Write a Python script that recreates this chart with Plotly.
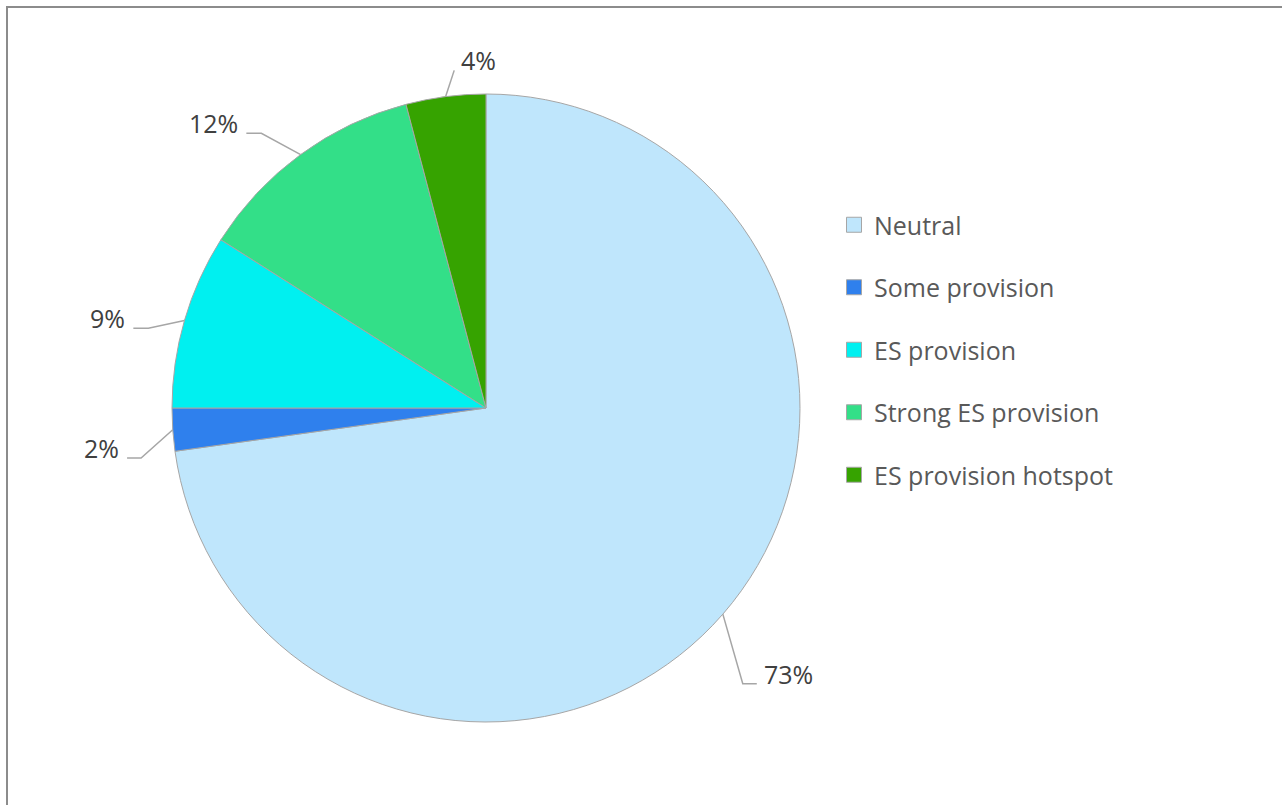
import math
import plotly.graph_objects as go

# data
categories = ['Neutral', 'Some provision', 'ES provision', 'Strong ES provision', 'ES provision hotspot']
shares = [72.8, 2.2, 9.0, 11.9, 4.1]
colors = ['#BFE6FC', '#2F80ED', '#00F0F0', '#33DF88', '#36A300']

# geometry (px) of the figure and the pie
W, H = 1282, 805
CX, CY, R = 486, 408, 314

# label placement per slice: angle nudge (deg), radius factor, side, horizontal leader length
label_tweaks = [(6, 1.20, 'right', 14), (-4.3, 1.11, 'left', 14), (-2.9, 1.105, 'left', 15),
                (-3.1, 1.13, 'left', 15), (2, 1.08, 'right', 0)]

LINE_COL = '#A6A6A6'
FONT = 'Open Sans'


def px(x):
    return x / W


def py(y):
    return 1 - y / H


fig = go.Figure()

fig.add_trace(go.Pie(
    labels=categories, values=shares, sort=False, direction='clockwise', rotation=0,
    marker=dict(colors=colors, line=dict(color=LINE_COL, width=1)),
    textinfo='none', showlegend=False, hoverinfo='label+percent',
    domain=dict(x=[px(CX - R), px(CX + R)], y=[py(CY + R), py(CY - R)]),
))

# legend entries (dummy traces so the item spacing can be set)
for name, col in zip(categories, colors):
    fig.add_trace(go.Scatter(
        x=[None], y=[None], mode='markers', name=name, legendgroup=name, hoverinfo='skip',
        marker=dict(symbol='square', size=15, color=col, line=dict(color=LINE_COL, width=1)),
    ))

# data labels with leader lines
total = sum(shares)
cum = 0
shapes = []
annotations = []
for v, (nudge, fac, side, seg) in zip(shares, label_tweaks):
    mid = math.radians((cum + v / 2) / total * 360)
    cum += v
    ex, ey = CX + R * math.sin(mid), CY - R * math.cos(mid)
    th = mid + math.radians(nudge)
    bx, by = CX + R * fac * math.sin(th), CY - R * fac * math.cos(th)
    if side == 'right':
        endx = bx + seg
        tx, anchor = endx + 5, 'left'
    else:
        endx = bx - seg
        tx, anchor = endx - 6, 'right'
    shapes.append(dict(
        type='path', xref='paper', yref='paper',
        path=f'M {px(ex)},{py(ey)} L {px(bx)},{py(by)} L {px(endx)},{py(by)}',
        line=dict(color=LINE_COL, width=1.5),
    ))
    annotations.append(dict(
        x=px(tx), y=py(by - 10), xref='paper', yref='paper', xanchor=anchor, yanchor='middle',
        text=f'{round(v / total * 100)}%', showarrow=False,
        font=dict(family=FONT, size=25, color='#404040'),
    ))

# chart border (right and bottom edges fall outside the picture)
shapes.append(dict(type='rect', xref='paper', yref='paper', x0=px(7), y0=-0.05, x1=1.05, y1=py(7),
                   line=dict(color='#8C8C8C', width=2)))

fig.update_layout(
    width=W, height=H,
    margin=dict(l=0, r=0, t=0, b=0),
    paper_bgcolor='white', plot_bgcolor='white',
    xaxis=dict(visible=False), yaxis=dict(visible=False),
    shapes=shapes, annotations=annotations,
    legend=dict(
        x=px(834), y=py(202), xanchor='left', yanchor='top',
        traceorder='grouped', tracegroupgap=27,
        font=dict(family=FONT, size=25, color='#595959'),
        bgcolor='rgba(0,0,0,0)',
    ),
)

fig.write_html('out.html', config={'displayModeBar': False},
               post_script="document.body.style.margin='0';")
